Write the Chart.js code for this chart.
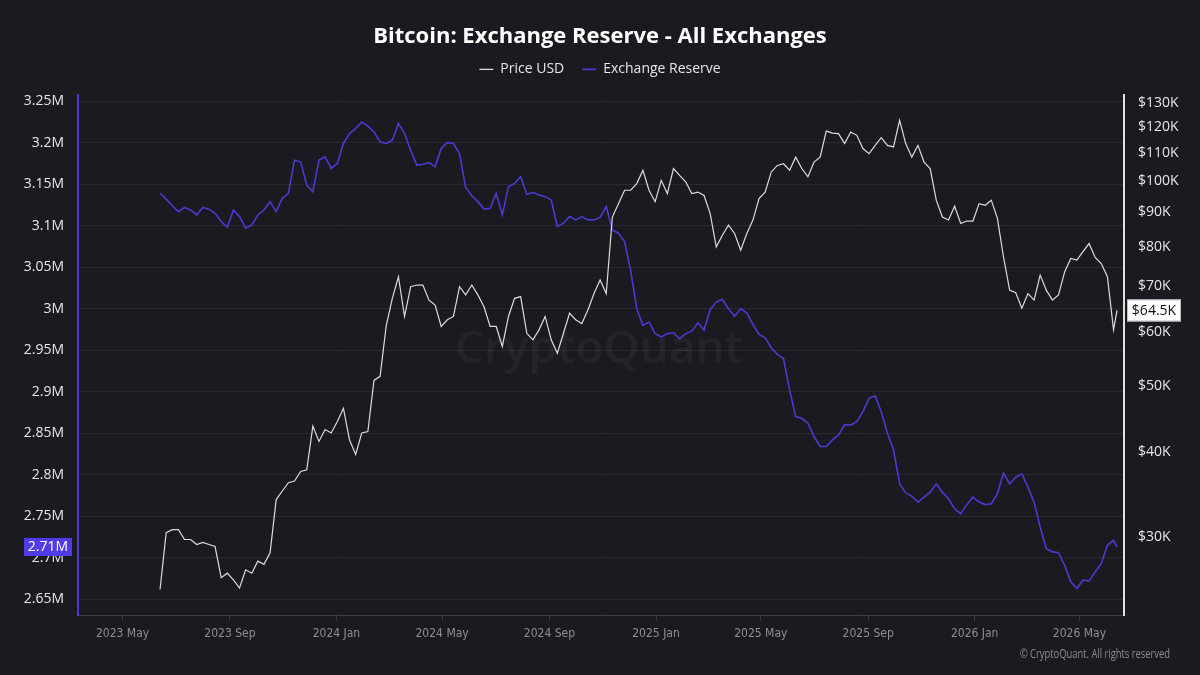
<!DOCTYPE html>
<html>
<head>
<meta charset="utf-8">
<script src="https://cdn.jsdelivr.net/npm/chart.js@4.4.1/dist/chart.umd.min.js"></script>
<style>
  html, body { margin: 0; padding: 0; background: #1b1a20; }
  #wrap { width: 1200px; height: 675px; }
</style>
</head>
<body>
<div id="wrap"><canvas id="chart" width="1200" height="675"></canvas></div>
<script>
// ---------------------------- data ---------------------------------------------

// weekly readings, first one on 2023-06-13, last point is 2026-06-13
const startDay = Date.UTC(2023, 5, 13);
const lastDay = Date.UTC(2026, 5, 13);

// Price USD, in $K
const price = [
  25.1, 30.4, 30.7, 30.7, 29.7, 29.7, 29.2, 29.4, 29.2, 29.0,
  26.1, 26.5, 25.9, 25.2, 26.8, 26.5, 27.6, 27.3, 28.4, 34.0,
  35.0, 36.0, 36.2, 37.4, 37.6, 43.6, 41.4, 43.1, 42.6, 44.3,
  46.3, 41.6, 39.6, 42.6, 42.8, 50.9, 51.6, 61.2, 67.2, 72.3,
  63.2, 69.9, 70.3, 70.3, 66.8, 65.7, 61.1, 62.5, 63.2, 69.9,
  68.0, 70.3, 68.0, 65.3, 61.1, 61.1, 57.1, 63.2, 67.2, 67.6,
  59.7, 58.4, 60.4, 63.2, 58.4, 55.8, 59.7, 63.9, 62.5, 61.7,
  64.6, 68.3, 71.5, 68.3, 88.5, 92.6, 96.9, 96.9, 99.1, 103.7,
  96.9, 93.2, 100.2, 95.8, 104.3, 101.9, 99.7, 95.8, 96.3, 95.2,
  89.6, 80.0, 83.2, 86.1, 83.7, 79.1, 83.7, 87.6, 94.2, 96.3,
  103.1, 105.4, 106.0, 103.7, 108.4, 104.3, 101.4, 106.6, 108.4, 118.4,
  117.6, 117.4, 113.5, 118.0, 116.7, 111.6, 109.7, 112.8, 115.8, 112.8,
  112.2, 122.8, 113.5, 108.4, 112.8, 106.6, 104.3, 93.7, 88.5, 87.6,
  91.8, 86.6, 87.3, 87.3, 92.6, 92.1, 93.7, 88.1, 77.3, 69.1,
  68.5, 65.0, 68.3, 66.8, 72.7, 69.1, 66.8, 68.0, 73.5, 76.9,
  76.5, 78.7, 80.9, 77.2, 75.6, 72.3, 60.4, 64.5
];

// Exchange Reserve, in millions of BTC
const reserve = [
  3.139, 3.132, 3.124, 3.117, 3.122, 3.119, 3.113, 3.122, 3.120, 3.115,
  3.105, 3.098, 3.119, 3.111, 3.097, 3.101, 3.113, 3.119, 3.129, 3.117,
  3.133, 3.139, 3.179, 3.177, 3.149, 3.141, 3.179, 3.183, 3.169, 3.175,
  3.199, 3.211, 3.217, 3.225, 3.220, 3.213, 3.201, 3.199, 3.203, 3.223,
  3.211, 3.191, 3.173, 3.174, 3.176, 3.171, 3.193, 3.200, 3.199, 3.187,
  3.146, 3.136, 3.129, 3.120, 3.121, 3.139, 3.113, 3.147, 3.151, 3.159,
  3.138, 3.140, 3.137, 3.135, 3.131, 3.099, 3.103, 3.111, 3.107, 3.111,
  3.107, 3.107, 3.110, 3.123, 3.095, 3.091, 3.081, 3.046, 3.000, 2.980,
  2.984, 2.970, 2.966, 2.970, 2.971, 2.964, 2.970, 2.973, 2.983, 2.974,
  2.999, 3.008, 3.011, 3.000, 2.991, 3.000, 2.995, 2.981, 2.969, 2.965,
  2.953, 2.945, 2.940, 2.902, 2.870, 2.868, 2.862, 2.846, 2.834, 2.834,
  2.842, 2.848, 2.860, 2.860, 2.864, 2.876, 2.892, 2.895, 2.876, 2.850,
  2.830, 2.789, 2.778, 2.774, 2.767, 2.773, 2.779, 2.789, 2.779, 2.771,
  2.759, 2.753, 2.764, 2.773, 2.767, 2.764, 2.765, 2.777, 2.802, 2.789,
  2.797, 2.801, 2.785, 2.767, 2.737, 2.711, 2.707, 2.706, 2.691, 2.671,
  2.663, 2.673, 2.672, 2.683, 2.693, 2.715, 2.721, 2.713
];

// tick labels
const xTickMonths = ['2023-05', '2023-09', '2024-01', '2024-05', '2024-09',
                     '2025-01', '2025-05', '2025-09', '2026-01', '2026-05'];
const reserveTicks = [2.65, 2.7, 2.75, 2.8, 2.85, 2.9, 2.95, 3, 3.05, 3.1, 3.15, 3.2, 3.25];
const priceTicks = [30, 40, 50, 60, 70, 80, 90, 100, 110, 120, 130];
const monthNames = ['Jan', 'Feb', 'Mar', 'Apr', 'May', 'Jun', 'Jul', 'Aug', 'Sep', 'Oct', 'Nov', 'Dec'];

// dates : one per week, last one is the final day
const DAY = 86400000;
const dates = [];
for (let i = 0; i < price.length - 1; i++) dates.push(startDay + i * 7 * DAY);
dates.push(lastDay);

const xTicks = xTickMonths.map(s => {
  const p = s.split('-');
  return Date.UTC(+p[0], +p[1] - 1, 1);
});

// ---------------------------- colours / fonts ----------------------------------

const BG = '#1b1a20';
const PURPLE = '#4a3bd0';
const WHITE_LINE = '#dcdcdc';
const FONT = "'Open Sans', 'Noto Sans', sans-serif";
const NARROW = "'DejaVu Sans Condensed', 'Open Sans', sans-serif";

// ---------------------------- plugins ------------------------------------------

const background = {
  id: 'background',
  beforeDraw(chart) {
    const c = chart.ctx;
    c.save();
    c.fillStyle = BG;
    c.fillRect(0, 0, chart.width, chart.height);
    c.restore();
  }
};

// more room under the legend
const legendSpace = {
  id: 'legendSpace',
  beforeInit(chart) {
    const fit = chart.legend.fit;
    chart.legend.fit = function () {
      fit.bind(chart.legend)();
      this.height += 9;
    };
  }
};

const watermark = {
  id: 'watermark',
  beforeDatasetsDraw(chart) {
    const c = chart.ctx;
    c.save();
    c.font = "600 46px " + FONT;
    c.fillStyle = 'rgba(255,255,255,0.045)';
    c.textAlign = 'center';
    c.textBaseline = 'middle';
    c.fillText('CryptoQuant', 599, 350);
    c.restore();
  }
};

const lastLabels = {
  id: 'lastLabels',
  afterDraw(chart) {
    const c = chart.ctx;
    const lastRes = reserve[reserve.length - 1];
    const lastPrice = price[price.length - 1];
    const yL = chart.scales.yRes.getPixelForValue(lastRes);
    const yR = chart.scales.yPrice.getPixelForValue(lastPrice);
    c.save();
    c.font = '14px ' + FONT;
    c.textBaseline = 'middle';
    c.textAlign = 'center';
    // left box
    c.fillStyle = '#4f3ce8';
    c.fillRect(24, yL - 9, 48, 18);
    c.fillStyle = '#ffffff';
    c.fillText(lastRes.toFixed(2) + 'M', 48, yL);
    // right box
    c.fillStyle = '#ffffff';
    c.fillRect(1127, yR - 11, 54, 22);
    c.strokeStyle = '#bdbdbd';
    c.lineWidth = 1;
    c.strokeRect(1127.5, yR - 10.5, 53, 21);
    c.fillStyle = '#111111';
    c.fillText('$' + lastPrice + 'K', 1154, yR + 1);
    // copyright, squeezed like the original narrow font
    c.font = '12px ' + FONT;
    c.fillStyle = '#8e8d96';
    c.textAlign = 'right';
    c.translate(1170, 655);
    c.scale(0.78, 1);
    c.fillText('\u00A9 CryptoQuant. All rights reserved', 0, 0);
    c.restore();
  }
};

// ---------------------------- chart --------------------------------------------

const ctx = document.getElementById('chart');
new Chart(ctx, {
  type: 'line',
  data: {
    datasets: [
      {
        label: 'Price USD',
        data: price.map((v, i) => ({ x: dates[i], y: v })),
        yAxisID: 'yPrice',
        borderColor: WHITE_LINE,
        backgroundColor: WHITE_LINE,
        borderWidth: 1.2,
        pointRadius: 0,
        tension: 0
      },
      {
        label: 'Exchange Reserve',
        data: reserve.map((v, i) => ({ x: dates[i], y: v })),
        yAxisID: 'yRes',
        borderColor: PURPLE,
        backgroundColor: PURPLE,
        borderWidth: 1.6,
        pointRadius: 0,
        tension: 0
      }
    ]
  },
  options: {
    responsive: false,
    animation: false,
    devicePixelRatio: 1,
    layout: { padding: 0 },
    plugins: {
      tooltip: { enabled: false },
      title: {
        display: true,
        text: 'Bitcoin: Exchange Reserve - All Exchanges',
        color: '#ffffff',
        font: { family: FONT, size: 22, weight: 'bold' },
        padding: { top: 24, bottom: -6 }
      },
      legend: {
        display: true,
        labels: {
          color: '#e6e6e6',
          font: { family: FONT, size: 14 },
          usePointStyle: true,
          pointStyle: 'line',
          pointStyleWidth: 14,
          boxHeight: 14,
          padding: 18
        }
      }
    },
    scales: {
      x: {
        type: 'linear',
        min: Date.UTC(2023, 2, 11),
        max: Date.UTC(2026, 5, 21),
        afterBuildTicks: s => { s.ticks = xTicks.map(v => ({ value: v })); },
        afterFit: s => { s.height = 60; },
        ticks: {
          color: '#8e8d96',
          font: { family: NARROW, size: 12 },
          padding: 6,
          maxRotation: 0,
          callback: v => {
            const d = new Date(v);
            return d.getUTCFullYear() + ' ' + monthNames[d.getUTCMonth()];
          }
        },
        grid: { drawOnChartArea: false, drawTicks: true, tickLength: 6, color: '#3a3940' },
        border: { color: '#3f3e46', width: 1 }
      },
      yRes: {
        type: 'linear',
        position: 'left',
        min: 2.631,
        max: 3.257,
        afterBuildTicks: s => { s.ticks = reserveTicks.map(v => ({ value: v })); },
        afterFit: s => { s.width = 78; },
        ticks: {
          color: '#e6e6e6',
          font: { family: FONT, size: 14 },
          padding: 14,
          callback: v => (+v.toFixed(2)) + 'M'
        },
        grid: { color: '#2a2931', drawTicks: false },
        border: { color: PURPLE, width: 2 }
      },
      yPrice: {
        type: 'logarithmic',
        position: 'right',
        min: 23.0,
        max: 133.6,
        afterBuildTicks: s => { s.ticks = priceTicks.map(v => ({ value: v })); },
        afterFit: s => { s.width = 76; },
        ticks: {
          color: '#e6e6e6',
          font: { family: FONT, size: 14 },
          padding: 14,
          callback: v => '$' + v + 'K'
        },
        grid: { drawOnChartArea: false, drawTicks: false },
        border: { color: '#e0e0e0', width: 2 }
      }
    }
  },
  plugins: [background, legendSpace, watermark, lastLabels]
});
</script>
</body>
</html>
